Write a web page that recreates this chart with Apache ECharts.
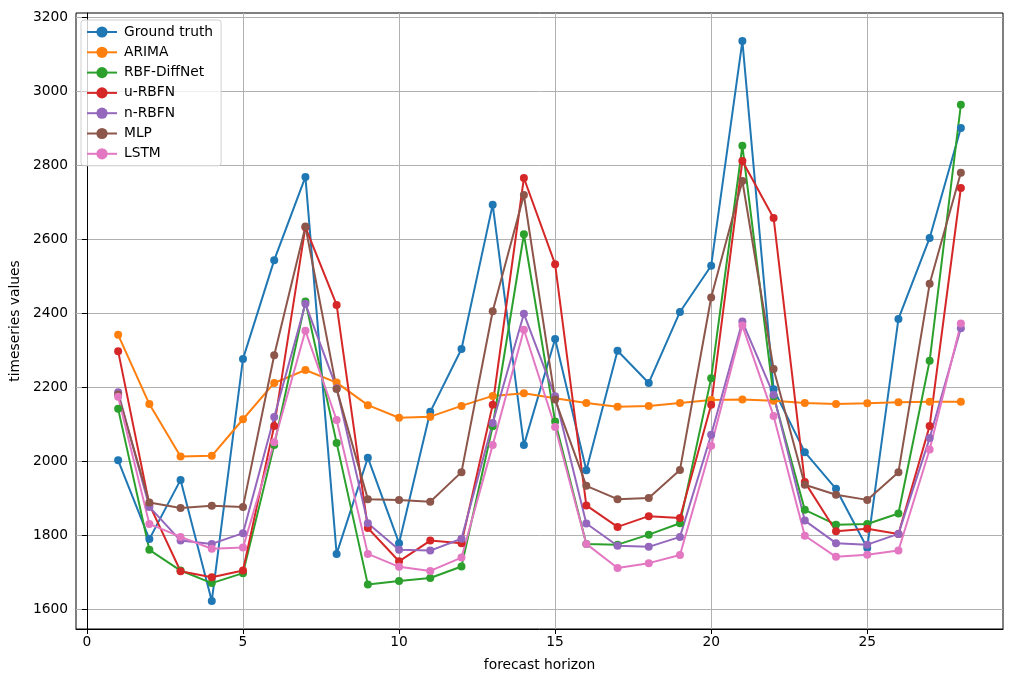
<!DOCTYPE html>
<html>
<head>
<meta charset="utf-8">
<title>forecast horizon</title>
<script src="https://cdn.jsdelivr.net/npm/echarts@6/dist/echarts.min.js"></script>
<style>
    html, body { margin: 0; padding: 0; background: #fff; }
    #chart { width: 1018px; height: 682px; }
</style>
</head>
<body>
<div id="chart"></div>
<script>
// forecast horizon steps
var horizon = [1, 2, 3, 4, 5, 6, 7, 8, 9, 10, 11, 12, 13, 14,
    15, 16, 17, 18, 19, 20, 21, 22, 23, 24, 25, 26, 27, 28];

var groundTruth = [2002, 1789, 1949, 1622, 2276, 2543, 2768, 1749, 2009, 1778, 2133, 2303, 2693, 2043,
    2330, 1975, 2298, 2211, 2403, 2528, 3135, 2194, 2024, 1925, 1765, 2384, 2603, 2900];
var arima = [2341, 2154, 2012, 2014, 2113, 2211, 2246, 2212, 2151, 2117, 2120, 2149, 2176, 2183,
    2170, 2157, 2147, 2149, 2157, 2165, 2166, 2163, 2157, 2154, 2156, 2159, 2160, 2160];
var rbfDiffNet = [2141, 1760, 1704, 1670, 1697, 2043, 2431, 2049, 1666, 1676, 1684, 1715, 2094, 2613,
    2107, 1776, 1774, 1801, 1832, 2224, 2852, 2175, 1868, 1828, 1830, 1858, 2271, 2963];
var uRbfn = [2297, 1882, 1702, 1686, 1704, 2095, 2632, 2422, 1819, 1729, 1785, 1778, 2152, 2765,
    2532, 1880, 1822, 1851, 1846, 2152, 2811, 2657, 1943, 1810, 1817, 1803, 2095, 2738];
var nRbfn = [2186, 1876, 1785, 1776, 1805, 2119, 2425, 2197, 1832, 1760, 1758, 1790, 2103, 2398,
    2175, 1831, 1771, 1768, 1795, 2071, 2377, 2179, 1839, 1778, 1774, 1803, 2062, 2359];
var mlp = [2180, 1888, 1873, 1879, 1876, 2286, 2634, 2195, 1897, 1895, 1890, 1970, 2405, 2719,
    2166, 1933, 1897, 1900, 1976, 2442, 2757, 2249, 1936, 1909, 1895, 1970, 2479, 2779];
var lstm = [2174, 1830, 1795, 1763, 1766, 2051, 2352, 2111, 1749, 1714, 1703, 1739, 2043, 2355,
    2092, 1776, 1711, 1724, 1746, 2041, 2366, 2122, 1798, 1741, 1747, 1758, 2031, 2372];

var seriesNames = ['Ground truth', 'ARIMA', 'RBF-DiffNet', 'u-RBFN', 'n-RBFN', 'MLP', 'LSTM'];
var seriesValues = [groundTruth, arima, rbfDiffNet, uRbfn, nRbfn, mlp, lstm];
var colors = ['#1f77b4', '#ff7f0e', '#2ca02c', '#d62728', '#9467bd', '#8c564b', '#e377c2'];

var xTicks = [0, 5, 10, 15, 20, 25];
var yTicks = [1600, 1800, 2000, 2200, 2400, 2600, 2800, 3000, 3200];

var font = 'DejaVu Sans';

function pairs(values)
{
    var out = [];
    for (var i = 0; i < horizon.length; i++)
    {
        out.push([horizon[i], values[i]]);
    }
    return out;
}

var series = [];
for (var k = 0; k < seriesNames.length; k++)
{
    series.push({
        name: seriesNames[k],
        type: 'line',
        data: pairs(seriesValues[k]),
        symbol: 'circle',
        symbolSize: 8,
        showAllSymbol: true,
        lineStyle: {width: 2, color: colors[k]},
        itemStyle: {color: colors[k]},
        emphasis: {disabled: true},
        animation: false
    });
}

var axisText = {color: '#000', fontFamily: font, fontSize: 13.8};

var myChart = echarts.init(document.getElementById('chart'));
var option = {
    color: colors,
    animation: false,
    grid: {
        left: 76, top: 13, right: 15, bottom: 53,
        show: true, borderColor: '#000', borderWidth: 1,
        containLabel: false
    },
    legend: {
        orient: 'vertical',
        left: 81,
        top: 20,
        data: seriesNames,
        itemWidth: 30,
        itemHeight: 14,
        itemGap: 6.3,
        padding: [5, 8, 5, 5],
        backgroundColor: 'rgba(255,255,255,0.8)',
        borderColor: '#d0d0d0',
        borderWidth: 1,
        borderRadius: 3,
        textStyle: {color: '#000', fontFamily: font, fontSize: 13.8, padding: [0, 0, 0, 2]}
    },
    xAxis: {
        type: 'value',
        min: -0.35,
        max: 29.35,
        name: 'forecast horizon',
        nameLocation: 'middle',
        nameGap: 29,
        nameTextStyle: axisText,
        axisLine: {show: true, lineStyle: {color: '#000', width: 1}},
        axisTick: {show: true, length: 5, lineStyle: {color: '#000'}, customValues: xTicks},
        axisLabel: Object.assign({margin: 6, customValues: xTicks, formatter: function (v) { return String(v); }}, axisText),
        splitLine: {show: true, lineStyle: {color: '#b0b0b0', width: 1}}
    },
    yAxis: {
        type: 'value',
        min: 1546,
        max: 3211,
        name: 'timeseries values',
        nameLocation: 'middle',
        nameGap: 50,
        nameTextStyle: axisText,
        axisLine: {show: true, lineStyle: {color: '#000', width: 1}},
        axisTick: {show: true, length: 5, lineStyle: {color: '#000'}, customValues: yTicks},
        axisLabel: Object.assign({margin: 8, customValues: yTicks, formatter: function (v) { return String(v); }}, axisText),
        splitLine: {show: true, lineStyle: {color: '#b0b0b0', width: 1}}
    },
    series: series
};
myChart.setOption(option);
</script>
</body>
</html>
